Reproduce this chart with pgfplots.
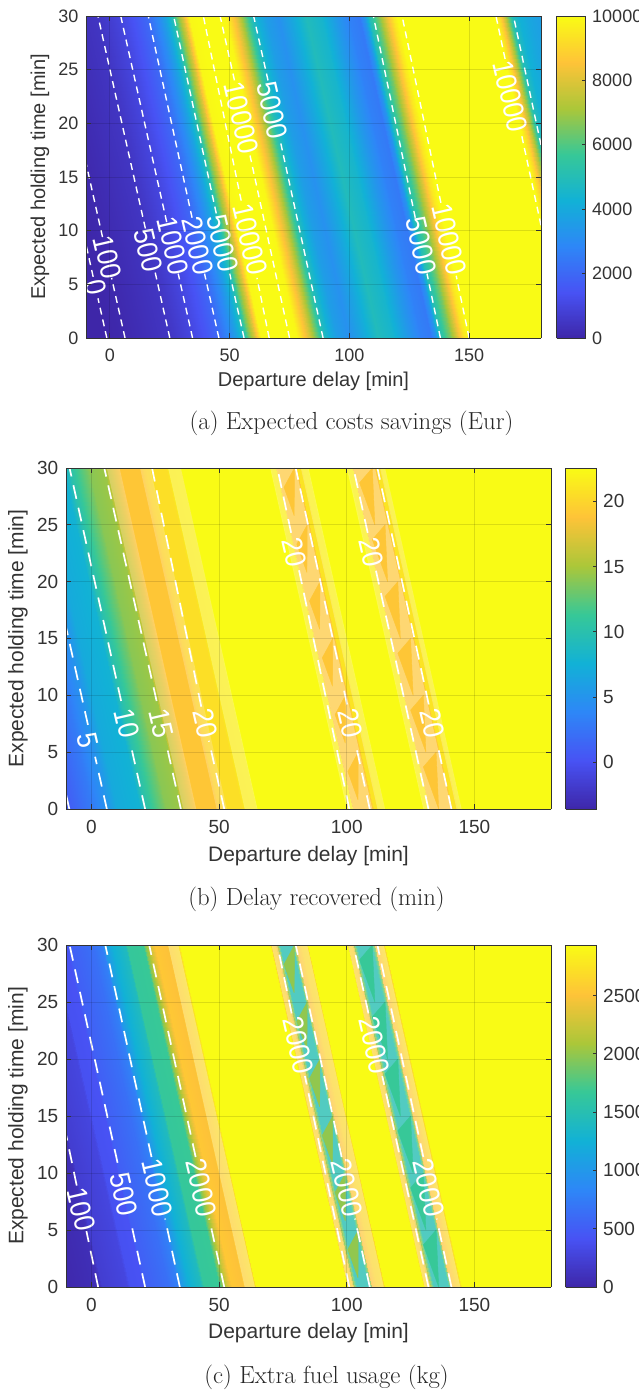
\documentclass[border=0pt]{standalone}
\usepackage{pgfplots}
\usepackage{fontspec}
\pgfplotsset{compat=1.18}
\newfontfamily\hv{Liberation Sans}
\definecolor{axc}{gray}{0.2}
\pgfplotsset{
 colormap={parula}{rgb=(0.2422,0.1504,0.6603) rgb=(0.2810,0.3228,0.9579) rgb=(0.1786,0.5289,0.9682) rgb=(0.0689,0.6948,0.8394) rgb=(0.2161,0.7843,0.5923) rgb=(0.6720,0.7793,0.2227) rgb=(0.9970,0.7659,0.2199) rgb=(0.9769,0.9839,0.0805)},
 panel/.style={
  scale only axis, view={0}{90}, anchor=south west, colormap name=parula, colorbar sampled,
  xmin=-10, xmax=180, ymin=0, ymax=30,
  xtick={0,50,100,150}, ytick={0,5,...,30},
  tick align=inside, grid=major, grid style={black, opacity=0.12, line width=0.9pt},
  axis on top, axis line style={axc, line width=0.9pt}, tick style={axc, line width=0.9pt, opacity=1},
  major tick length=5pt,
  /pgf/number format/assume math mode=true, /pgf/number format/1000 sep={},
  xlabel={Departure delay [min]}, ylabel={Expected holding time [min]},
  tick label style={text=axc, inner sep=1pt},
  xticklabel style={yshift=-10pt}, yticklabel style={xshift=-6.5pt},
 },
 cb/.style={
  at={(parent axis.north east)}, anchor=north west, xshift=#1,
  samples=257,
  tick align=inside, major tick length=4pt, grid=none, ytick pos=right, yticklabel pos=right,
  scaled y ticks=false, axis line style={axc, line width=0.7pt},
  tick label style={text=axc, inner sep=1pt},
  yticklabel style={xshift=5.5pt},
  /pgf/number format/assume math mode=true, /pgf/number format/1000 sep={},
 },
 sf/.style={surf, shader=interp, mesh/ordering=y varies, mesh/rows=2, point meta=explicit},
 ov/.style={fill=white, draw=none, opacity=#1, no markers},
 tri/.style={patch, shader=flat, point meta=explicit},
}
\tikzset{
 conA/.style={white, dash pattern=on 7pt off 5pt, line width=1.4pt},
 conB/.style={white, dash pattern=on 14pt off 9pt, line width=1.7pt},
 cl/.style={text=white, rotate=-77, inner sep=0pt, font=\hv\fontsize{29}{29}\selectfont},
}
\newcommand\segA[4]{\addplot3[conA, no markers] coordinates {(#1,#2,0)(#3,#4,0)};}
\newcommand\segB[4]{\addplot3[conB, no markers] coordinates {(#1,#2,0)(#3,#4,0)};}
\newcommand\lab[3]{\node[cl] at (axis cs:#1,#2,0) {\scalebox{0.9}[1]{#3}};}
\begin{document}
\begin{tikzpicture}[x=1pt,y=1pt]
\useasboundingbox (0,0) rectangle (639,1390);

% ---------- (a)
\begin{axis}[panel, at={(86pt,1052pt)}, width=455pt, height=322pt,
 point meta min=0, point meta max=10000,
 tick label style={font=\hv\fontsize{18}{18}\selectfont},
 every axis x label/.style={at={(axis description cs:0.5,-0.1335)},anchor=center,text=axc,font=\hv\fontsize{20}{20}\selectfont},
 every axis y label/.style={at={(axis description cs:-0.101,0.5)},anchor=center,rotate=90,text=axc,font=\hv\fontsize{20}{20}\selectfont},
 colorbar style={cb=7pt, width=29pt, ytick={0,2000,...,10000}, tick label style={font=\hv\fontsize{18}{18}\selectfont}},
]
\addplot3[sf] table[row sep=\\, x=x, y=y, z expr=0, meta=v] {x y v\\
-10 0 0\\ -40 30 0\\
-1.3 0 0\\ -31.3 30 0\\
6.3 0 100\\ -23.7 30 100\\
15 0 280\\ -15 30 280\\
25 0 500\\ -5 30 500\\
34 0 1000\\ 4 30 1000\\
40 0 1500\\ 10 30 1500\\
45 0 2000\\ 15 30 2000\\
50 0 3000\\ 20 30 3000\\
53 0 3800\\ 23 30 3800\\
56 0 5000\\ 26 30 5000\\
58 0 6500\\ 28 30 6500\\
60.5 0 8000\\ 30.5 30 8000\\
63 0 9900\\ 33 30 9900\\
66 0 10000\\ 36 30 10000\\
76 0 10000\\ 46 30 10000\\
78 0 9900\\ 48 30 9900\\
83 0 8000\\ 53 30 8000\\
86 0 6500\\ 56 30 6500\\
89 0 5000\\ 59 30 5000\\
92 0 4200\\ 62 30 4200\\
95 0 3600\\ 65 30 3600\\
100 0 3200\\ 70 30 3200\\
106 0 4000\\ 76 30 4000\\
112 0 4900\\ 82 30 4900\\
118 0 4500\\ 88 30 4500\\
125 0 3400\\ 95 30 3400\\
130 0 2700\\ 100 30 2700\\
134 0 2500\\ 104 30 2500\\
136 0 3300\\ 106 30 3300\\
138 0 5000\\ 108 30 5000\\
142 0 6500\\ 112 30 6500\\
145 0 8000\\ 115 30 8000\\
148 0 9500\\ 118 30 9500\\
150 0 10000\\ 120 30 10000\\
191 0 10000\\ 161 30 10000\\
193 0 9000\\ 163 30 9000\\
195 0 7500\\ 165 30 7500\\
198 0 5000\\ 168 30 5000\\
201 0 4300\\ 171 30 4300\\
205 0 3900\\ 175 30 3900\\
210 0 3600\\ 180 30 3600\\
};
\segA{-1.3}{0}{-5}{3.7}\segA{-7}{5.7}{-10}{8.7}
\segA{6.3}{0}{0.7}{5.6}\segA{-3.1}{9.4}{-10}{16.3}
\segA{25}{0}{18.8}{6.2}\segA{14.8}{10.2}{-5}{30}
\segA{34.5}{0}{28.5}{6}\segA{23.7}{10.8}{4.5}{30}
\segA{45.5}{0}{39.5}{6}\segA{34.3}{11.2}{16}{30}
\segA{56}{0}{50}{6}\segA{44.4}{11.6}{26.6}{30}
\segA{66.5}{0}{61.4}{5.6}\segA{54.8}{12.8}{39}{30}
\segA{75}{0}{58.5}{17}\segA{52}{24}{46}{30}
\segA{89}{0}{71}{18.5}\segA{66}{24}{60}{30}
\segA{138}{0}{132.4}{6}\segA{127.5}{11.2}{110}{30}
\segA{150}{0}{144.6}{5.8}\segA{138.2}{12.6}{122}{30}
\segA{180}{10.5}{171.8}{19}\segA{165}{26}{161.2}{30}
\segA{180}{18}{168.5}{30}
\lab{-6}{4.7}{0}\lab{-1}{7.5}{100}\lab{16}{8.2}{500}\lab{26.4}{8.6}{1000}\lab{36.6}{8.6}{2000}\lab{47}{8.8}{5000}
\lab{58.5}{9.2}{10000}\lab{54.9}{20.5}{10000}\lab{67.8}{21.2}{5000}\lab{130}{8.6}{5000}\lab{141.6}{9.2}{10000}\lab{167.3}{22.5}{10000}
\end{axis}

% ---------- (b)
\begin{axis}[panel, at={(66pt,581pt)}, width=485pt, height=341pt,
 point meta min=-3.57, point meta max=22.55,
 tick label style={font=\hv\fontsize{19}{19}\selectfont},
 every axis x label/.style={at={(axis description cs:0.5,-0.138)},anchor=center,text=axc,font=\hv\fontsize{21}{21}\selectfont},
 every axis y label/.style={at={(axis description cs:-0.099,0.5)},anchor=center,rotate=90,text=axc,font=\hv\fontsize{21}{21}\selectfont},
 colorbar style={cb=6pt, width=31pt, ytick={0,5,10,15,20}, tick label style={font=\hv\fontsize{19}{19}\selectfont}},
]
\addplot3[sf] table[row sep=\\, x=x, y=y, z expr=0, meta=v] {x y v\\
-10 0 0.7\\ -40 30 0.7\\
0 0 3\\ -30 30 3\\
6 0 5\\ -24 30 5\\
10 0 7\\ -20 30 7\\
19 0 7.8\\ -11 30 7.8\\
21 0 10\\ -9 30 10\\
24 0 11.5\\ -6 30 11.5\\
28 0 13.3\\ -2 30 13.3\\
29 0 14\\ -1 30 14\\
35 0 14.6\\ 5 30 14.6\\
36 0 16.5\\ 6 30 16.5\\
40 0 18.3\\ 10 30 18.3\\
41 0 19\\ 11 30 19\\
49 0 19\\ 19 30 19\\
50 0 19.8\\ 20 30 19.8\\
52.5 0 20.3\\ 22.5 30 20.3\\
53 0 20.7\\ 23 30 20.7\\
59 0 20.7\\ 29 30 20.7\\
60 0 21.6\\ 30 30 21.6\\
64.5 0 21.7\\ 34.5 30 21.7\\
65 0 22.55\\ 35 30 22.55\\
100 0 22.55\\ 70 30 22.55\\
100.3 0 21.8\\ 70.3 30 21.8\\
102 0 21.8\\ 72 30 21.8\\
102.5 0 19\\ 72.5 30 19\\
110 0 19\\ 80 30 19\\
110.5 0 21\\ 80.5 30 21\\
112 0 21\\ 82 30 21\\
112.5 0 21.8\\ 82.5 30 21.8\\
114.5 0 21.8\\ 84.5 30 21.8\\
115 0 22.55\\ 85 30 22.55\\
130 0 22.55\\ 100 30 22.55\\
130.3 0 21.8\\ 100.3 30 21.8\\
132 0 21.8\\ 102 30 21.8\\
132.5 0 19\\ 102.5 30 19\\
141 0 19\\ 111 30 19\\
141.5 0 21\\ 111.5 30 21\\
143 0 21\\ 113 30 21\\
143.5 0 21.8\\ 113.5 30 21.8\\
144.5 0 21.8\\ 114.5 30 21.8\\
145 0 22.55\\ 115 30 22.55\\
210 0 22.55\\ 180 30 22.55\\
};
\addplot3[ov=0.3] coordinates {(102.5,0,0)(110,0,0)(80,30,0)(72.5,30,0)};
\addplot3[ov=0.3] coordinates {(132.5,0,0)(141,0,0)(111,30,0)(102.5,30,0)};
\addplot3[ov=0.22] coordinates {(36,0,0)(41,0,0)(11,30,0)(6,30,0)};
\addplot3[ov=0.22] coordinates {(49,0,0)(53,0,0)(23,30,0)(19,30,0)};
\addplot3[ov=0.25] coordinates {(100,0,0)(102.5,0,0)(72.5,30,0)(70,30,0)};
\addplot3[ov=0.25] coordinates {(112,0,0)(115,0,0)(85,30,0)(82,30,0)};
\addplot3[ov=0.25] coordinates {(130,0,0)(132.5,0,0)(102.5,30,0)(100,30,0)};
\addplot3[ov=0.25] coordinates {(143,0,0)(145,0,0)(115,30,0)(113,30,0)};
\addplot3[ov=0.25] coordinates {(60,0,0)(65,0,0)(35,30,0)(30,30,0)};
\addplot3[tri] table[row sep=\\, x=x, y=y, z expr=0, meta=v] {x y v\\
79.5 30 19\\ 75.4 28.3 19\\ 79.4 25.8 19\\
84.5 25 19\\ 80.4 23.3 19\\ 84.4 20.8 19\\
89.5 20 19\\ 85.4 18.3 19\\ 89.4 15.8 19\\
94.5 15 19\\ 90.4 13.3 19\\ 94.4 10.8 19\\
99.5 10 19\\ 95.4 8.3 19\\ 99.4 5.8 19\\
104.5 5 19\\ 100.4 3.3 19\\ 104.4 0.8 19\\
110 30 19\\ 105 28.7 19\\ 111 25 19\\
115 25 19\\ 110 23.7 19\\ 116 20 19\\
120 20 19\\ 115 18.7 19\\ 121 15 19\\
125 15 19\\ 120 13.7 19\\ 126 10 19\\
130 10 19\\ 125 8.7 19\\ 131 5 19\\
135 5 19\\ 130 3.7 19\\ 136 0 19\\
};
\segB{-8.7}{0}{-10}{1.3}
\segB{6}{0}{1.4}{4.6}\segB{-1.4}{7.4}{-10}{16}
\segB{21}{0}{15.5}{5.5}\segB{11.6}{9.5}{-8.6}{30}
\segB{35}{0}{29.5}{5.5}\segB{25.5}{9.5}{5}{30}
\segB{52}{0}{46}{6}\segB{43}{9}{23.7}{30}
\segB{101}{0}{81.3}{21}\segB{78.2}{24.3}{72.8}{30}
\segB{109}{0}{103.4}{5.8}\segB{100.1}{9.2}{80}{30}
\segB{132}{0}{111.4}{21}\segB{108.2}{24.3}{102.6}{30}
\segB{141}{0}{135.4}{5.8}\segB{132.1}{9.2}{112}{30}
\lab{-1.4}{6}{5}\lab{13.8}{7.5}{10}\lab{27.4}{7.5}{15}\lab{44.7}{7.5}{20}
\lab{79.5}{22.6}{20}\lab{109.5}{22.6}{20}\lab{101.5}{7.5}{20}\lab{133.5}{7.5}{20}
\end{axis}

% ---------- (c)
\begin{axis}[panel, at={(66pt,103pt)}, width=485pt, height=342pt,
 point meta min=0, point meta max=2934,
 tick label style={font=\hv\fontsize{19}{19}\selectfont},
 every axis x label/.style={at={(axis description cs:0.5,-0.1345)},anchor=center,text=axc,font=\hv\fontsize{21}{21}\selectfont},
 every axis y label/.style={at={(axis description cs:-0.099,0.5)},anchor=center,rotate=90,text=axc,font=\hv\fontsize{21}{21}\selectfont},
 colorbar style={cb=6pt, width=31pt, ytick={0,500,1000,1500,2000,2500}, tick label style={font=\hv\fontsize{19}{19}\selectfont}},
]
\addplot3[sf] table[row sep=\\, x=x, y=y, z expr=0, meta=v] {x y v\\
-10 0 20\\ -40 30 20\\
2 0 80\\ -28 30 80\\
3 0 100\\ -27 30 100\\
4 0 220\\ -26 30 220\\
14 0 300\\ -16 30 300\\
15 0 400\\ -15 30 400\\
20 0 420\\ -10 30 420\\
21 0 520\\ -9 30 520\\
30 0 650\\ 0 30 650\\
34 0 780\\ 4 30 780\\
35 0 1000\\ 5 30 1000\\
38 0 1250\\ 8 30 1250\\
43 0 1420\\ 13 30 1420\\
44 0 1650\\ 14 30 1650\\
50 0 1680\\ 20 30 1680\\
51 0 1950\\ 21 30 1950\\
53 0 2300\\ 23 30 2300\\
55 0 2550\\ 25 30 2550\\
59.5 0 2500\\ 29.5 30 2500\\
60 0 2600\\ 30 30 2600\\
64 0 2700\\ 34 30 2700\\
64.5 0 2934\\ 34.5 30 2934\\
100 0 2934\\ 70 30 2934\\
100.5 0 2650\\ 70.5 30 2650\\
102 0 2600\\ 72 30 2600\\
103 0 2000\\ 73 30 2000\\
104 0 1500\\ 74 30 1500\\
108.5 0 1500\\ 78.5 30 1500\\
109.5 0 2000\\ 79.5 30 2000\\
110 0 2500\\ 80 30 2500\\
112 0 2650\\ 82 30 2650\\
114.5 0 2700\\ 84.5 30 2700\\
115 0 2934\\ 85 30 2934\\
130 0 2934\\ 100 30 2934\\
130.5 0 2650\\ 100.5 30 2650\\
132 0 2600\\ 102 30 2600\\
133 0 2000\\ 103 30 2000\\
134 0 1500\\ 104 30 1500\\
139.5 0 1500\\ 109.5 30 1500\\
140.5 0 1950\\ 110.5 30 1950\\
141 0 2500\\ 111 30 2500\\
143 0 2650\\ 113 30 2650\\
144.5 0 2700\\ 114.5 30 2700\\
145 0 2934\\ 115 30 2934\\
210 0 2934\\ 180 30 2934\\
};
\addplot3[ov=0.3] coordinates {(100.5,0,0)(102.8,0,0)(72.8,30,0)(70.5,30,0)};
\addplot3[ov=0.3] coordinates {(110,0,0)(114.5,0,0)(84.5,30,0)(80,30,0)};
\addplot3[ov=0.3] coordinates {(130.5,0,0)(132.8,0,0)(102.8,30,0)(100.5,30,0)};
\addplot3[ov=0.3] coordinates {(141,0,0)(144.5,0,0)(114.5,30,0)(111,30,0)};
\addplot3[ov=0.3] coordinates {(60,0,0)(64,0,0)(34,30,0)(30,30,0)};
\addplot3[ov=0.2] coordinates {(103,0,0)(110,0,0)(80,30,0)(73,30,0)};
\addplot3[ov=0.2] coordinates {(133,0,0)(141,0,0)(111,30,0)(103,30,0)};
\addplot3[tri] table[row sep=\\, x=x, y=y, z expr=0, meta=v] {x y v\\
79.5 30 2000\\ 75.4 28.3 2000\\ 79.4 25.8 2000\\
84.5 25 2000\\ 80.4 23.3 2000\\ 84.4 20.8 2000\\
89.5 20 2000\\ 85.4 18.3 2000\\ 89.4 15.8 2000\\
94.5 15 2000\\ 90.4 13.3 2000\\ 94.4 10.8 2000\\
99.5 10 2000\\ 95.4 8.3 2000\\ 99.4 5.8 2000\\
104.5 5 2000\\ 100.4 3.3 2000\\ 104.4 0.8 2000\\
110 30 1670\\ 105 28.7 1670\\ 111 25 1670\\
115 25 1670\\ 110 23.7 1670\\ 116 20 1670\\
120 20 1670\\ 115 18.7 1670\\ 121 15 1670\\
125 15 1670\\ 120 13.7 1670\\ 126 10 1670\\
130 10 1670\\ 125 8.7 1670\\ 131 5 1670\\
135 5 1670\\ 130 3.7 1670\\ 136 0 1670\\
};
\segB{2.6}{0}{-2}{4.9}\segB{-5.8}{8.9}{-10}{13.4}
\segB{21}{0}{15.8}{5.3}\segB{10.2}{10.9}{-8.6}{30}
\segB{34.6}{0}{28.8}{6}\segB{23.5}{11.4}{5.4}{30}
\segB{52}{0}{46.1}{6}\segB{40.8}{11.4}{22.6}{30}
\segB{101}{0}{83.6}{18.5}\segB{78.4}{24}{72.8}{30}
\segB{109}{0}{103.2}{6}\segB{98}{11.4}{80}{30}
\segB{132}{0}{113.9}{18.5}\segB{108.5}{24}{102.6}{30}
\segB{141}{0}{135.2}{6}\segB{130}{11.4}{112}{30}
\lab{-4}{6.8}{100}\lab{12.6}{8.1}{500}\lab{25.8}{8.7}{1000}\lab{43}{8.7}{2000}
\lab{81}{21.2}{2000}\lab{110.8}{21.2}{2000}\lab{100}{8.7}{2000}\lab{132}{8.7}{2000}
\end{axis}

\node[font=\fontsize{24.7}{25}\selectfont, text=black!85, inner sep=0pt] at (351.5,967) {(a) Expected costs savings (Eur)};
\node[font=\fontsize{24.7}{25}\selectfont, text=black!85, inner sep=0pt] at (316.5,491) {(b) Delay recovered (min)};
\node[font=\fontsize{24.7}{25}\selectfont, text=black!85, inner sep=0pt] at (326.5,13) {(c) Extra fuel usage (kg)};
\end{tikzpicture}
\end{document}
